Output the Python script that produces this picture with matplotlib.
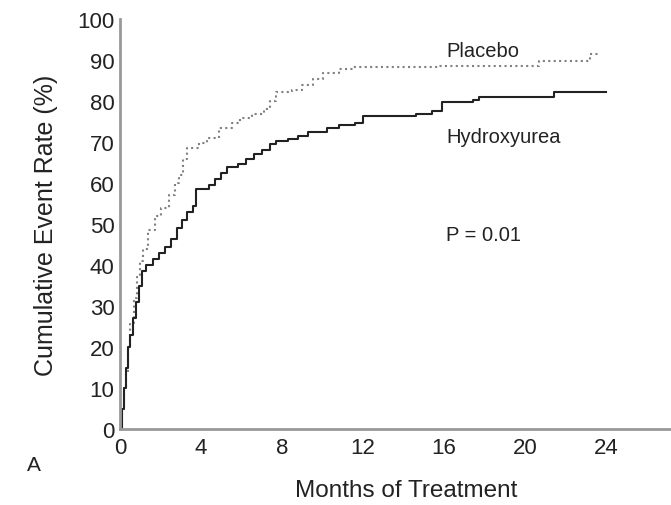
import matplotlib.pyplot as plt

# 数据
hu_months = [0, 0.1, 0.2, 0.3, 0.4, 0.5, 0.65, 0.8, 0.95, 1.1, 1.3, 1.6, 1.9, 2.2, 2.5,
             2.8, 3.05, 3.3, 3.6, 3.75, 4.4, 4.7, 5.0, 5.3, 5.8, 6.2, 6.6, 7.0, 7.4, 7.7,
             8.3, 8.8, 9.3, 10.2, 10.8, 11.6, 12.0, 14.6, 15.4, 15.9, 17.4, 17.7, 21.4, 24.0]
hu_rate = [0, 5, 10, 15, 20, 23, 27, 31, 35, 38.5, 40, 41.5, 43, 44.5, 46.5,
           49, 51, 53, 54.5, 58.5, 59.5, 61, 62.5, 64, 64.8, 65.8, 67, 68, 69.5, 70.3,
           70.8, 71.5, 72.5, 73.5, 74.2, 74.8, 76.3, 76.8, 77.5, 79.7, 80.4, 81, 82.2, 82.2]

pl_months = [0, 0.1, 0.2, 0.3, 0.4, 0.5, 0.7, 0.85, 1.0, 1.15, 1.4, 1.7, 2.0, 2.4, 2.7,
             2.9, 3.1, 3.3, 3.9, 4.3, 4.9, 5.5, 5.9, 6.5, 7.1, 7.4, 7.7, 8.5, 9.0, 9.5,
             10.0, 10.8, 11.5, 15.7, 20.7, 23.2, 23.7]
pl_rate = [0, 5, 10, 14, 20, 26, 32, 37, 41, 44, 48.5, 52, 54, 57, 60,
           62, 66, 68.5, 69.8, 71, 73.5, 74.8, 75.8, 77, 78.2, 80, 82.2, 82.8, 84, 85.5,
           87, 87.8, 88.3, 88.6, 89.8, 91.5, 91.5]

x_ticks = [0, 4, 8, 12, 16, 20, 24]
y_ticks = list(range(0, 101, 10))

plt.rcParams['font.family'] = ['Liberation Sans', 'DejaVu Sans']

fig = plt.figure(figsize=(6.71, 5.06), dpi=100)
ax = fig.add_axes([0.179, 0.150, 0.821, 0.810])

ax.plot(pl_months, pl_rate, drawstyle='steps-post', color='#808080',
        linestyle=(0, (1, 1.6)), linewidth=1.5)
ax.plot(hu_months, hu_rate, drawstyle='steps-post', color='#222222', linewidth=1.5)

ax.set_xlim(0, 27.2)
ax.set_ylim(0, 100)
ax.set_xticks(x_ticks)
ax.set_yticks(y_ticks)
ax.tick_params(length=0, labelsize=16, colors='#222222')
ax.tick_params(axis='x', pad=6)
ax.tick_params(axis='y', pad=4)

for side in ['top', 'right']:
    ax.spines[side].set_visible(False)
for side in ['left', 'bottom']:
    ax.spines[side].set_color('#999999')
    ax.spines[side].set_linewidth(2)

ax.set_xlabel('Months of Treatment', fontsize=17.5, color='#222222', labelpad=15)
ax.xaxis.label.set_x(0.52)
ax.set_ylabel('Cumulative Event Rate (%)', fontsize=18, color='#222222', labelpad=14)

ax.text(16.1, 92.3, 'Placebo', fontsize=14.5, color='#222222', va='center')
ax.text(16.1, 71.5, 'Hydroxyurea', fontsize=14.5, color='#222222', va='center')
ax.text(16.1, 47.5, 'P = 0.01', fontsize=14.5, color='#222222', va='center')
fig.text(0.04, 0.081, 'A', fontsize=15, color='#222222', va='center')

plt.savefig('out.png')
